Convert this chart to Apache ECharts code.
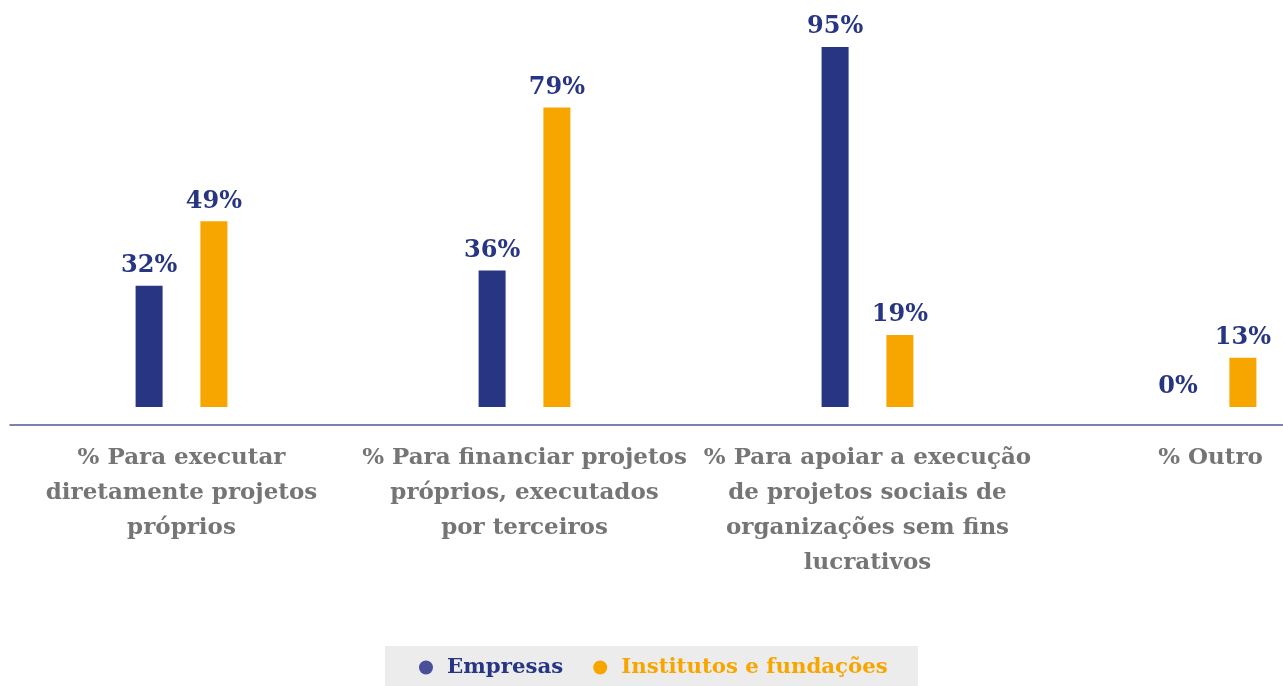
<!DOCTYPE html>
<html>
<head>
<meta charset="utf-8">
<script src="https://cdn.jsdelivr.net/npm/echarts@6/dist/echarts.min.js"></script>
<style>
  html, body { margin: 0; padding: 0; background: #fff; }
  #chart { width: 1283px; height: 686px; }
</style>
</head>
<body>
<div id="chart"></div>
<script>
var categories = [
    '% Para executar\ndiretamente projetos\npróprios',
    '% Para financiar projetos\npróprios, executados\npor terceiros',
    '% Para apoiar a execução\nde projetos sociais de\norganizações sem fins\nlucrativos',
    '% Outro'
];
var empresas = [32, 36, 95, 0];
var institutos = [49, 79, 19, 13];

var serif = '"DejaVu Serif", "Liberation Serif", serif';

var chart = echarts.init(document.getElementById('chart'));
var option = {
    animation: false,
    grid: {
        left: 10,
        width: 1372,
        top: 28,
        bottom: 279,
        outerBoundsMode: 'none',
        containLabel: false
    },
    legend: {
        left: 385,
        bottom: -4,
        backgroundColor: '#ececec',
        padding: [11, 30, 12, 34],
        itemGap: 30,
        icon: 'circle',
        itemWidth: 14,
        itemHeight: 14,
        textStyle: { fontFamily: serif, fontSize: 21.3, fontWeight: 'bold', padding: [0, 0, 0, 9] },
        data: [
            { name: 'Empresas', itemStyle: { color: '#4a4f9a' }, textStyle: { color: '#283583' } },
            { name: 'Institutos e fundações', itemStyle: { color: '#f7a600' }, textStyle: { color: '#f7a600' } }
        ]
    },
    xAxis: {
        type: 'category',
        data: categories,
        offset: 18,
        axisLine: { onZero: false, lineStyle: { color: '#4f5b95', width: 1.5 } },
        axisTick: { show: false },
        axisLabel: {
            interval: 0,
            margin: 16,
            color: '#757575',
            fontFamily: serif,
            fontWeight: 'bold',
            fontSize: 23,
            lineHeight: 35
        }
    },
    yAxis: {
        type: 'value',
        min: 0,
        max: 100,
        show: false
    },
    series: [
        {
            name: 'Empresas',
            type: 'bar',
            data: empresas,
            barWidth: 27,
            barGap: '140%',
            itemStyle: { color: '#283583' },
            label: {
                show: true,
                position: 'top',
                distance: 8,
                formatter: '{c}%',
                color: '#283583',
                fontFamily: serif,
                fontWeight: 'bold',
                fontSize: 24
            }
        },
        {
            name: 'Institutos e fundações',
            type: 'bar',
            data: institutos,
            barWidth: 27,
            itemStyle: { color: '#f7a600' },
            label: {
                show: true,
                position: 'top',
                distance: 8,
                formatter: '{c}%',
                color: '#283583',
                fontFamily: serif,
                fontWeight: 'bold',
                fontSize: 24
            }
        }
    ]
};
chart.setOption(option);
</script>
</body>
</html>
